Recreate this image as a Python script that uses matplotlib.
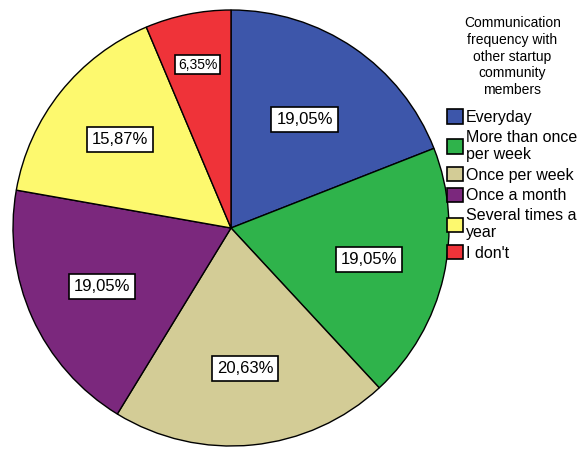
import numpy as np
import matplotlib.pyplot as plt
import matplotlib
matplotlib.rcParams['font.family'] = ['Liberation Sans', 'DejaVu Sans']

categories = ["Everyday", "More than once\nper week", "Once per week",
              "Once a month", "Several times a\nyear", "I don't"]
values = [19.05, 19.05, 20.63, 19.05, 15.87, 6.35]
colors = ["#3d56aa", "#2fb34b", "#d3cc96", "#7b287d", "#fdf96e", "#ef3339"]
legend_title = "Communication\nfrequency with\nother startup\ncommunity\nmembers"

W, H = 581, 449
fig = plt.figure(figsize=(W / 100, H / 100), dpi=100)
ax = fig.add_axes([0, 0, 1, 1])
ax.set_xlim(0, W)
ax.set_ylim(0, H)
ax.set_aspect('equal')
ax.axis('off')

cx, cy = 231, H - 228
wedges, texts, autotexts = ax.pie(
    values, colors=colors, startangle=90, counterclock=False,
    center=(cx, cy), radius=218, pctdistance=0.65,
    autopct=lambda p: f"{p:.2f}%".replace('.', ','),
    wedgeprops=dict(edgecolor='black', linewidth=1.0),
    textprops=dict(fontsize=12))
ax.set_xlim(0, W)
ax.set_ylim(0, H)

for t in autotexts:
    t.set_bbox(dict(facecolor='white', edgecolor='black', boxstyle='square,pad=0.3', linewidth=1.2))
# the small slice label sits further out and is smaller
x, y = autotexts[-1].get_position()
k = 0.765 / 0.65
autotexts[-1].set_position((cx + (x - cx) * k, cy + (y - cy) * k))
autotexts[-1].set_fontsize(10)
autotexts[-1].get_bbox_patch().set_boxstyle('square,pad=0.2')
# first slice label a bit nearer the centre
x, y = autotexts[0].get_position()
k = 0.6 / 0.65
autotexts[0].set_position((cx + (x - cx) * k, cy + (y - cy) * k))

leg = ax.legend(wedges, categories, title=legend_title, loc='upper left',
                bbox_to_anchor=(447 / W, 1 - 16 / H), bbox_transform=fig.transFigure,
                frameon=False, fontsize=11.5, title_fontsize=10,
                handlelength=1.0, handleheight=1.0, handletextpad=0.2,
                labelspacing=0.3, borderpad=0, borderaxespad=0)
leg.get_title().set_multialignment('center')
leg.get_title().set_linespacing(1.25)
leg._legend_box.sep = 9
for t in leg.get_texts():
    t.set_linespacing(1.2)
for h in leg.legend_handles:
    h.set_edgecolor('black')
    h.set_linewidth(1.2)

fig.savefig("out.png", dpi=100)
